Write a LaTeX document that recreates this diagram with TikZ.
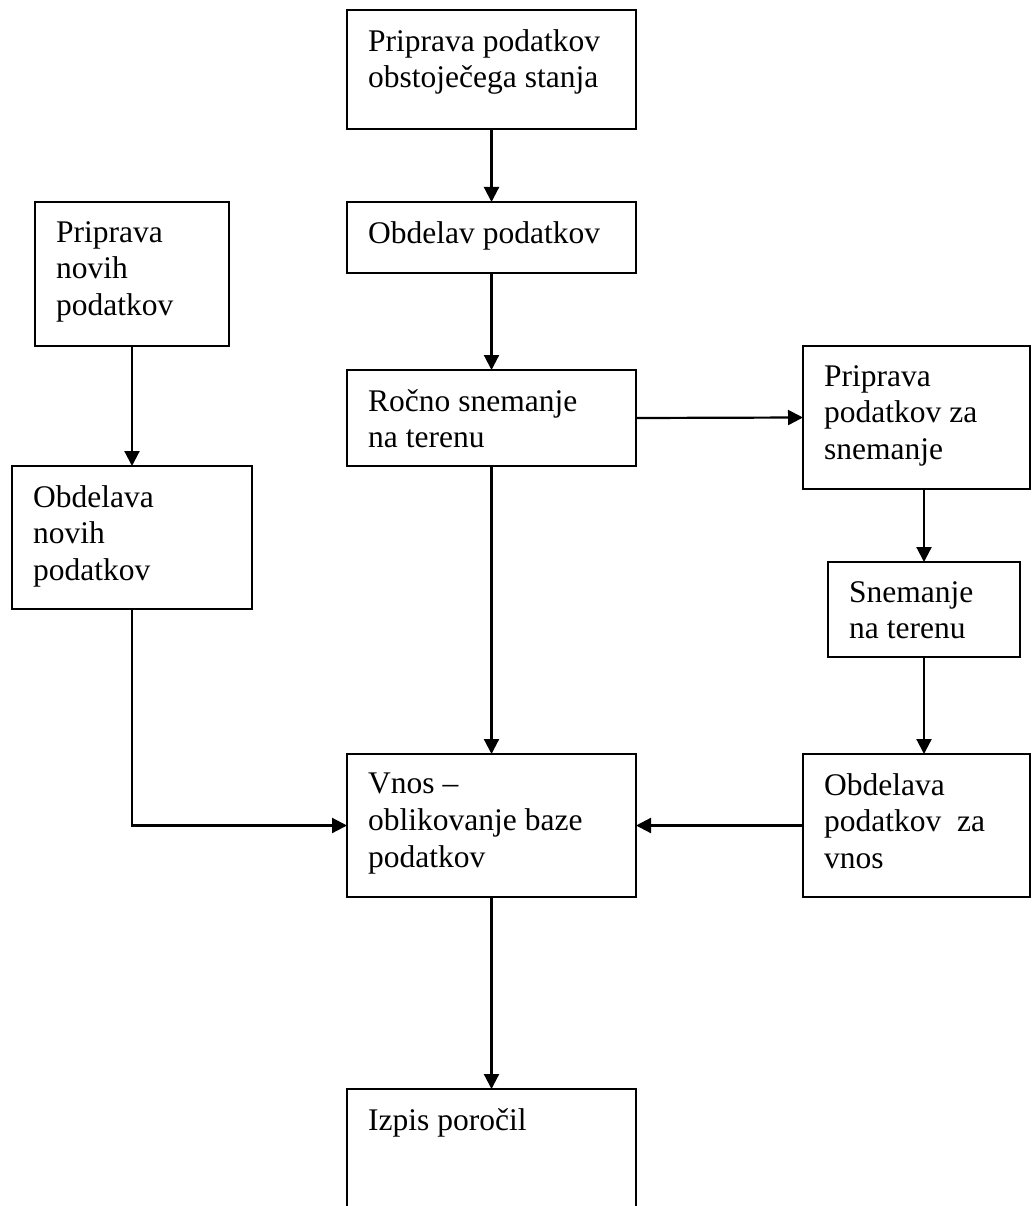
\documentclass[tikz,border=0pt]{standalone}
\usepackage{fontspec}
\setmainfont{Liberation Serif}
\usepackage{tikz}
\usetikzlibrary{arrows.meta}

\begin{document}
\begin{tikzpicture}[x=1pt, y=-1pt,
  box/.style={draw, line width=2.6pt, inner sep=0pt, outer sep=0pt},
  lbl/.style={anchor=north west, inner sep=0pt, align=left, font=\fontsize{31.5}{36.8}\selectfont},
  arr/.style={line width=2.2pt, -{Triangle[width=15pt, length=15pt]}}]
  \clip (0,0) rectangle (1032,1206);
  \node[box, minimum width=289, minimum height=119] (prep) at (491.5,69.5) {};
  \node[lbl] (preptxt) at ([shift={(21,19)}]prep.north west) {Priprava podatkov\\obstoječega stanja};
  \node[box, minimum width=289, minimum height=71] (obd) at (491.5,237.5) {};
  \node[lbl] (obdtxt) at ([shift={(21,19)}]obd.north west) {Obdelav podatkov};
  \node[box, minimum width=289, minimum height=96] (rocno) at (491.5,418) {};
  \node[lbl] (rocnotxt) at ([shift={(21,19)}]rocno.north west) {Ročno snemanje\\na terenu};
  \node[box, minimum width=194, minimum height=144] (nprep) at (132,274) {};
  \node[lbl] (npreptxt) at ([shift={(21,19)}]nprep.north west) {Priprava\\novih\\podatkov};
  \node[box, minimum width=240, minimum height=143] (nobd) at (132,537.5) {};
  \node[lbl] (nobdtxt) at ([shift={(21,19)}]nobd.north west) {Obdelava\\novih\\podatkov};
  \node[box, minimum width=227, minimum height=143] (sprep) at (916.5,417.5) {};
  \node[lbl] (spreptxt) at ([shift={(21,19)}]sprep.north west) {Priprava\\podatkov za\\snemanje};
  \node[box, minimum width=192, minimum height=95] (snem) at (924,609.5) {};
  \node[lbl] (snemtxt) at ([shift={(21,19)}]snem.north west) {Snemanje\\na terenu};
  \node[box, minimum width=227, minimum height=143] (sobd) at (916.5,825.5) {};
  \node[lbl] (sobdtxt) at ([shift={(21,19)}]sobd.north west) {Obdelava\\podatkov\ \ za\\vnos};
  \node[box, minimum width=289, minimum height=143] (vnos) at (491.5,825.5) {};
  \node[lbl] (vnostxt) at ([shift={(21,19)}]vnos.north west) {Vnos –\\oblikovanje baze\\podatkov};
  \node[box, minimum width=289, minimum height=151] (izpis) at (491.5,1164.5) {};
  \node[lbl] (izpistxt) at ([shift={(21,19)}]izpis.north west) {Izpis poročil};

  \draw[arr] (prep.south) -- (obd.north);
  \draw[arr] (obd.south) -- (rocno.north);
  \draw[arr] (nprep.south) -- (nobd.north);
  \draw[arr] (rocno.east) -- (sprep.west);
  \draw[arr] (sprep.south -| snem.north) -- (snem.north);
  \draw[arr] (snem.south) -- (snem.south |- sobd.north);
  \draw[arr] (sobd.west) -- (vnos.east);
  \draw[arr] (nobd.south) |- (vnos.west);
  \draw[arr] (rocno.south) -- (vnos.north);
  \draw[arr] (vnos.south) -- (izpis.north);
\end{tikzpicture}
\end{document}
